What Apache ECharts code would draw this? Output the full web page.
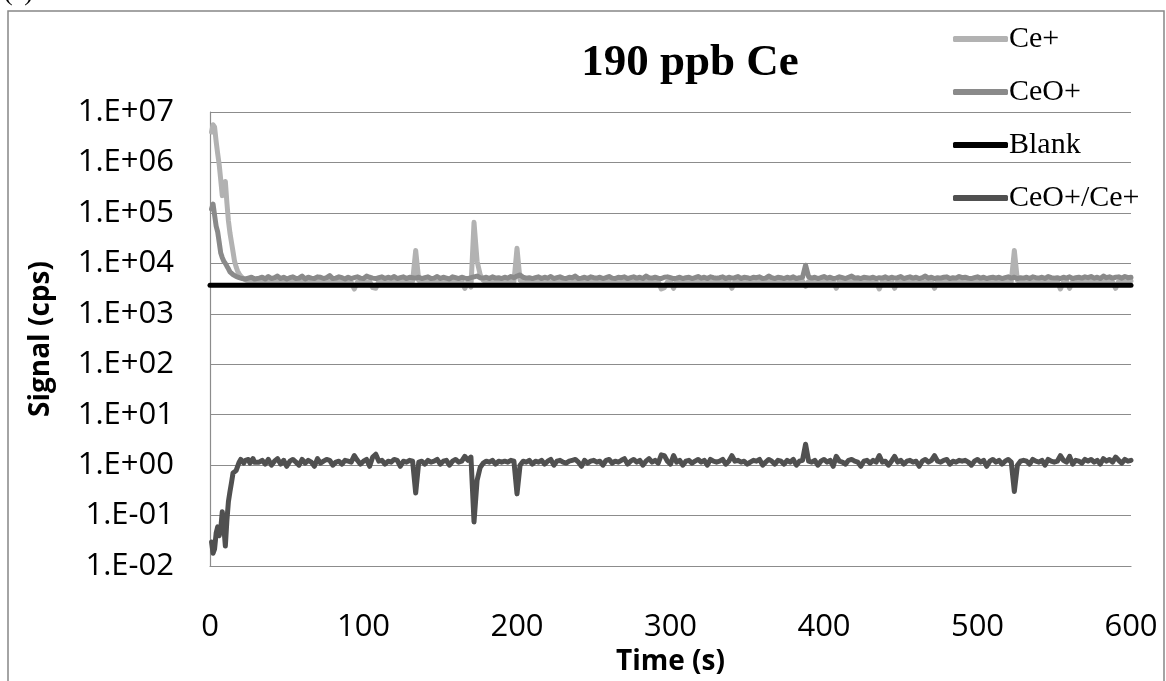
<!DOCTYPE html>
<html>
<head>
<meta charset="utf-8">
<title>190 ppb Ce</title>
<script src="https://cdn.jsdelivr.net/npm/echarts@6/dist/echarts.min.js"></script>
<style>
  html, body { margin: 0; padding: 0; background: #fff; }
  #chart { width: 1166px; height: 681px; }
</style>
</head>
<body>
<div id="chart"></div>
<script>
// time stamps (s): 1 s steps to 30 s, then 2 s steps
const times = [
  1, 2, 3, 4, 5, 6, 7, 8, 9, 10, 11, 12, 13, 14, 15, 16, 17, 18, 19, 20,
  21, 22, 23, 24, 25, 26, 27, 28, 29, 30,
  32, 34, 36, 38, 40, 42, 44, 46, 48, 50,
  52, 54, 56, 58, 60, 62, 64, 66, 68, 70,
  72, 74, 76, 78, 80, 82, 84, 86, 88, 90,
  92, 94, 96, 98, 100, 102, 104, 106, 108, 110,
  112, 114, 116, 118, 120, 122, 124, 126, 128, 130,
  132, 134, 136, 138, 140, 142, 144, 146, 148, 150,
  152, 154, 156, 158, 160, 162, 164, 166, 168, 170,
  172, 174, 176, 178, 180, 182, 184, 186, 188, 190,
  192, 194, 196, 198, 200, 202, 204, 206, 208, 210,
  212, 214, 216, 218, 220, 222, 224, 226, 228, 230,
  232, 234, 236, 238, 240, 242, 244, 246, 248, 250,
  252, 254, 256, 258, 260, 262, 264, 266, 268, 270,
  272, 274, 276, 278, 280, 282, 284, 286, 288, 290,
  292, 294, 296, 298, 300, 302, 304, 306, 308, 310,
  312, 314, 316, 318, 320, 322, 324, 326, 328, 330,
  332, 334, 336, 338, 340, 342, 344, 346, 348, 350,
  352, 354, 356, 358, 360, 362, 364, 366, 368, 370,
  372, 374, 376, 378, 380, 382, 384, 386, 388, 390,
  392, 394, 396, 398, 400, 402, 404, 406, 408, 410,
  412, 414, 416, 418, 420, 422, 424, 426, 428, 430,
  432, 434, 436, 438, 440, 442, 444, 446, 448, 450,
  452, 454, 456, 458, 460, 462, 464, 466, 468, 470,
  472, 474, 476, 478, 480, 482, 484, 486, 488, 490,
  492, 494, 496, 498, 500, 502, 504, 506, 508, 510,
  512, 514, 516, 518, 520, 522, 524, 526, 528, 530,
  532, 534, 536, 538, 540, 542, 544, 546, 548, 550,
  552, 554, 556, 558, 560, 562, 564, 566, 568, 570,
  572, 574, 576, 578, 580, 582, 584, 586, 588, 590,
  592, 594, 596, 598, 600
]

// Ce+ signal (cps)
const cePlus = [
  4.0e6, 5.6e6, 5.0e6, 2.6e6, 1.5e6, 9.0e5, 4.5e5, 2.2e5, 2.5e5, 4.2e5,
  1.6e5, 7.0e4, 4.0e4, 2.6e4, 1.7e4, 1.1e4, 8500, 7000, 6200, 5600,
  5200, 4900, 4700, 4600, 4500, 4400, 4500, 4300, 4400, 4400,
  4400, 4500, 4300, 4600, 4400, 4200, 4500, 4400, 4600, 4300,
  4500, 4400, 4200, 4500, 4600, 4300, 4400, 4500, 4300, 4400,
  4600, 4400, 4300, 4500, 4200, 4400, 4600, 4500, 4300, 4400,
  4200, 3100, 4300, 4400, 4500, 4300, 4400, 3300, 3200, 4400,
  4500, 4300, 4400, 4600, 4400, 4200, 4500, 4400, 4300, 4500,
  4400, 1.8e4, 4600, 4300, 4500, 4400, 4300, 4500, 4200, 4400,
  4500, 4300, 4400, 4600, 4400, 4300, 4500, 3200, 4300, 3400,
  6.5e4, 1.1e4, 6000, 4600, 4400, 4300, 4500, 4400, 4200, 4400,
  4500, 4300, 4400, 4300, 2.0e4, 4600, 4400, 4500, 4300, 4400,
  4400, 4600, 4300, 4500, 4400, 4200, 4500, 4400, 4600, 4300,
  4500, 4400, 4300, 4500, 4400, 4600, 4300, 4400, 4500, 4300,
  4400, 4500, 4300, 4400, 4600, 4400, 4200, 4500, 4400, 4300,
  4500, 4400, 4300, 4500, 4400, 4300, 4600, 4400, 4500, 4300,
  4400, 3100, 3300, 4300, 4500, 3200, 4400, 4300, 4500, 4400,
  4300, 4500, 4400, 4600, 4300, 4400, 4500, 4300, 4400, 4500,
  4400, 4300, 4500, 4400, 3200, 4400, 4500, 4300, 4400, 4600,
  4400, 4300, 4500, 4400, 4300, 4500, 4400, 4600, 4300, 4400,
  4500, 4400, 4300, 4500, 4400, 4300, 4400, 4500, 3500, 4400,
  4500, 4300, 4400, 4600, 4400, 4300, 4500, 4400, 3200, 4400,
  4500, 4300, 4400, 4600, 4400, 4300, 4500, 4400, 4300, 4500,
  4400, 4300, 3100, 4400, 4500, 4300, 4400, 3200, 4400, 4500,
  4300, 4400, 4600, 4400, 4300, 4500, 4400, 4300, 4500, 4400,
  3200, 4400, 4300, 4500, 4400, 4600, 4300, 4400, 4500, 4300,
  4400, 4500, 4300, 4400, 4600, 4400, 4300, 4500, 4400, 4300,
  4500, 4400, 4300, 4500, 4400, 4300, 1.8e4, 4600, 4400, 4300,
  4400, 4500, 4300, 4400, 4600, 4400, 4300, 4500, 4400, 4300,
  4400, 3100, 4300, 4500, 3200, 4400, 4300, 4500, 4400, 4300,
  4500, 4400, 4300, 4600, 4400, 4300, 4500, 4400, 4300, 3200,
  4400, 4500, 4300, 4400, 4500
]

// CeO+ signal (cps)
const ceoPlus = [
  1.2e5, 1.5e5, 9.0e4, 5.5e4, 4.2e4, 2.6e4, 1.6e4, 1.3e4, 1.1e4, 1.0e4,
  8800, 7800, 6800, 6300, 6000, 5800, 5500, 5300, 5200, 5100,
  5000, 5200, 4900, 5000, 5100, 4900, 5300, 5000, 4900, 5100,
  5100, 5300, 4900, 5500, 5000, 5200, 5600, 5000, 5300, 4900,
  5200, 5400, 5000, 5100, 5600, 4900, 5300, 5100, 5000, 5400,
  5300, 5000, 5200, 5700, 5000, 5100, 5400, 5200, 4900, 5300,
  5000, 5200, 5400, 5100, 5000, 5600, 5300, 5100, 5000, 5200,
  5400, 5000, 5300, 5100, 5500, 5000, 5200, 5400, 5000, 5300,
  5200, 5100, 5300, 5000, 5200, 5400, 5000, 5100, 5500, 5000,
  5300, 5100, 4900, 5400, 5200, 5000, 5300, 5100, 5000, 5200,
  5400, 5600, 5200, 5100, 5300, 5000, 5400, 5100, 5200, 5000,
  5300, 5100, 5500, 5200, 5600, 5900, 5300, 5100, 5200, 5000,
  5200, 5400, 5000, 5300, 5100, 5500, 5000, 5200, 5400, 5100,
  5000, 5300, 5200, 5600, 5000, 5100, 5300, 5000, 5400, 5200,
  5100, 5300, 5000, 5200, 5500, 5100, 5000, 5300, 5200, 5400,
  5000, 5200, 5400, 5100, 5300, 5000, 5600, 5200, 5100, 5300,
  5100, 5000, 5300, 5400, 5200, 5000, 5100, 5300, 5000, 5200,
  5300, 5000, 5200, 5500, 5100, 5300, 5000, 5400, 5200, 5100,
  5200, 5400, 5000, 5300, 5100, 5200, 5500, 5000, 5300, 5200,
  5000, 5300, 5200, 5400, 5000, 5100, 5600, 5200, 5000, 5300,
  5200, 5000, 5300, 5100, 5400, 5000, 5200, 5300, 9200, 5400,
  5100, 5300, 5000, 5200, 5500, 5100, 5300, 5000, 5100, 5400,
  5200, 5000, 5300, 5600, 5100, 5200, 5000, 5300, 5200, 5100,
  5300, 5000, 5200, 5100, 5400, 5000, 5300, 5100, 5200, 5500,
  5000, 5200, 5400, 5100, 5300, 5000, 5200, 5600, 5100, 5300,
  5000, 5200, 5100, 5300, 5400, 5000, 5200, 5100, 5500, 5200,
  5300, 5100, 5000, 5200, 5400, 5100, 5300, 5000, 5200, 5300,
  5100, 5300, 5000, 5200, 5400, 5100, 5300, 5000, 5200, 5100,
  5300, 5000, 5400, 5200, 5100, 5300, 5000, 5500, 5200, 5100,
  5200, 5000, 5300, 5100, 5400, 5000, 5200, 5300, 5100, 5400,
  5200, 5500, 5100, 5300, 5000, 5600, 5200, 5400, 5100, 5300,
  5400, 5100, 5500, 5200, 5300
]

// CeO+/Ce+ ratio
const ratio = [
  0.030, 0.018, 0.022, 0.045, 0.060, 0.040, 0.055, 0.120, 0.060, 0.025,
  0.080, 0.19, 0.30, 0.45, 0.70, 0.75, 0.78, 0.85, 1.15, 1.30,
  1.20, 1.10, 1.25, 1.15, 1.30, 1.10, 1.20, 1.35, 1.15, 1.20,
  1.15, 1.25, 1.05, 1.30, 1.00, 1.20, 1.35, 1.05, 1.25, 0.95,
  1.20, 1.30, 1.15, 1.00, 1.30, 1.10, 1.25, 1.15, 0.95, 1.35,
  1.10, 1.20, 1.30, 1.25, 1.00, 1.15, 1.20, 1.05, 1.25, 1.20,
  1.15, 1.55, 1.25, 1.05, 1.20, 1.30, 0.95, 1.45, 1.65, 1.20,
  1.25, 1.05, 1.20, 1.15, 1.30, 1.25, 0.95, 1.20, 1.15, 1.25,
  1.20, 0.28, 1.15, 1.20, 1.05, 1.25, 1.15, 1.20, 1.30, 1.05,
  1.20, 1.25, 1.00, 1.20, 1.30, 1.15, 1.20, 1.50, 1.25, 1.45,
  0.075, 0.50, 0.90, 1.10, 1.20, 1.15, 1.25, 1.05, 1.20, 1.15,
  1.20, 1.15, 1.25, 1.20, 0.27, 1.00, 1.20, 1.15, 1.25, 1.05,
  1.20, 1.15, 1.25, 1.05, 1.20, 1.30, 1.00, 1.20, 1.25, 1.15,
  1.10, 1.20, 1.25, 1.30, 1.15, 0.95, 1.25, 1.10, 1.20, 1.25,
  1.15, 1.20, 1.00, 1.25, 1.30, 1.10, 1.20, 1.15, 1.25, 1.35,
  1.05, 1.20, 1.30, 1.15, 1.25, 1.00, 1.20, 1.35, 1.15, 1.25,
  1.10, 1.60, 1.55, 1.20, 1.05, 1.55, 1.15, 1.25, 1.00, 1.20,
  1.25, 1.10, 1.20, 1.30, 1.15, 1.25, 1.00, 1.30, 1.20, 1.15,
  1.20, 1.30, 1.05, 1.20, 1.55, 1.20, 1.25, 1.15, 1.20, 1.05,
  1.15, 1.25, 1.20, 1.30, 1.00, 1.15, 1.30, 1.20, 1.05, 1.25,
  1.20, 1.05, 1.25, 1.15, 1.30, 1.00, 1.20, 1.25, 2.60, 1.20,
  1.15, 1.25, 1.00, 1.20, 1.30, 1.15, 1.25, 0.95, 1.50, 1.20,
  1.15, 1.05, 1.25, 1.30, 1.20, 1.15, 0.95, 1.20, 1.25, 1.10,
  1.25, 1.15, 1.55, 1.15, 1.20, 1.00, 1.20, 1.50, 1.15, 1.25,
  1.05, 1.20, 1.25, 1.15, 1.20, 0.95, 1.20, 1.30, 1.15, 1.25,
  1.55, 1.20, 1.15, 1.25, 1.30, 1.05, 1.20, 1.15, 1.25, 1.20,
  1.25, 1.15, 1.00, 1.20, 1.30, 1.15, 1.25, 0.95, 1.20, 1.30,
  1.15, 1.25, 1.05, 1.20, 1.30, 1.15, 0.30, 1.00, 1.20, 1.25,
  1.20, 1.05, 1.30, 1.20, 1.15, 1.25, 1.00, 1.30, 1.20, 1.15,
  1.20, 1.55, 1.25, 1.15, 1.50, 1.05, 1.25, 1.20, 1.10, 1.30,
  1.20, 1.30, 1.15, 1.25, 1.05, 1.35, 1.20, 1.30, 1.15, 1.45,
  1.25, 1.10, 1.30, 1.20, 1.25
]

// blank level (cps), flat over the run
const blankTimes = [0, 600]
const blankLevel = [3700, 3700]

// y tick labels, from 1e-2 to 1e7
const yTickLabels = ['1.E-02', '1.E-01', '1.E+00', '1.E+01', '1.E+02',
  '1.E+03', '1.E+04', '1.E+05', '1.E+06', '1.E+07']
const seriesNames = ['Ce+', 'CeO+', 'Blank', 'CeO+/Ce+']

function pairs (xs, ys) {
  return xs.map((x, i) => [x, ys[i]])
}

const chart = echarts.init(document.getElementById('chart'))

const lineBase = {
  type: 'line',
  showSymbol: false,
  symbol: 'none',
  sampling: null,
  animation: false,
  clip: true
}

chart.setOption({
  animation: false,
  backgroundColor: '#fff',
  textStyle: { fontFamily: 'Open Sans' },
  grid: { left: 210, right: 35, top: 112, bottom: 108 },
  legend: {
    data: seriesNames,
    orient: 'vertical',
    left: 953,
    top: 24,
    padding: 0,
    itemWidth: 55,
    itemHeight: 6,
    itemGap: 23,
    icon: 'roundRect',
    textStyle: {
      fontFamily: 'Liberation Serif',
      fontSize: 30,
      lineHeight: 30,
      color: '#000',
      padding: [0, 0, 0, -4]
    }
  },
  xAxis: {
    type: 'value',
    min: 0,
    max: 600,
    interval: 100,
    name: 'Time (s)',
    nameLocation: 'middle',
    nameGap: 74,
    nameTextStyle: { fontFamily: 'Open Sans', fontWeight: 'bold', fontSize: 28, color: '#000' },
    axisLine: { show: true, onZero: false, lineStyle: { color: '#8c8c8c', width: 1.2 } },
    axisTick: { show: false },
    splitLine: { show: false },
    axisLabel: { margin: 46, fontFamily: 'Open Sans', fontSize: 31, color: '#000' }
  },
  yAxis: {
    type: 'log',
    logBase: 10,
    min: 0.01,
    max: 1e7,
    splitNumber: 9,
    name: 'Signal (cps)',
    nameLocation: 'middle',
    nameGap: 155,
    nameTextStyle: { fontFamily: 'Open Sans', fontWeight: 'bold', fontSize: 28, color: '#000' },
    axisLine: { show: true, lineStyle: { color: '#8c8c8c', width: 1.2 } },
    axisTick: { show: false },
    splitLine: { show: true, lineStyle: { color: '#8c8c8c', width: 1.2 } },
    axisLabel: {
      margin: 36,
      fontFamily: 'Open Sans',
      fontSize: 31,
      color: '#000',
      formatter: function (v) {
        return yTickLabels[Math.round(Math.log10(v)) + 2]
      }
    }
  },
  graphic: [
    {
      type: 'rect',
      shape: { x: 8, y: 11, width: 1156, height: 700 },
      style: { fill: 'none', stroke: '#878787', lineWidth: 1.5 },
      silent: true
    },
    {
      type: 'text',
      left: 4,
      top: -20,
      style: { text: '(a)', font: '26px "Liberation Serif"', fill: '#000' }
    },
    {
      type: 'text',
      x: 690,
      y: 63,
      style: {
        text: '190 ppb Ce',
        font: 'bold 45px "Liberation Serif"',
        fill: '#000',
        align: 'center',
        verticalAlign: 'middle'
      }
    }
  ],
  series: [
    Object.assign({}, lineBase, {
      name: 'Ce+',
      color: '#b2b2b2',
      lineStyle: { width: 5, color: '#b2b2b2', cap: 'round', join: 'round' },
      data: pairs(times, cePlus)
    }),
    Object.assign({}, lineBase, {
      name: 'CeO+',
      color: '#8a8a8a',
      lineStyle: { width: 5, color: '#8a8a8a', cap: 'round', join: 'round' },
      data: pairs(times, ceoPlus)
    }),
    Object.assign({}, lineBase, {
      name: 'Blank',
      color: '#000',
      lineStyle: { width: 5, color: '#000', cap: 'round', join: 'round' },
      data: pairs(blankTimes, blankLevel)
    }),
    Object.assign({}, lineBase, {
      name: 'CeO+/Ce+',
      color: '#505050',
      lineStyle: { width: 5, color: '#505050', cap: 'round', join: 'round' },
      data: pairs(times, ratio)
    })
  ]
})
</script>
</body>
</html>
